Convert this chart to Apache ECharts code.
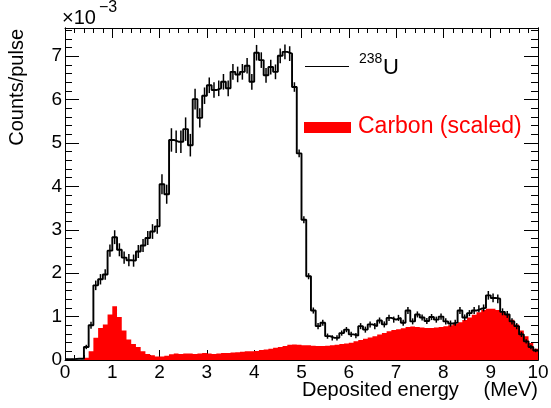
<!DOCTYPE html>
<html>
<head>
<meta charset="utf-8">
<script src="https://cdn.jsdelivr.net/npm/echarts@6/dist/echarts.min.js"></script>
<style>html,body{margin:0;padding:0;background:#fff}#c{width:551px;height:408px}</style>
</head>
<body>
<div id="c"></div>
<script>
// Histogram: 100 bins of 0.1 MeV from 0 to 10 MeV; values in units of 1e-3 counts/pulse
var binWidth = 0.1;
var xTickLabels = ['0','1','2','3','4','5','6','7','8','9','10'];
var yTickLabels = ['0','1','2','3','4','5','6','7'];

var u238 = [
 0.02,0.02,0.03,0.03,0.30,0.80,1.72,1.86,1.97,2.52,
 2.83,2.54,2.36,2.30,2.29,2.50,2.64,2.81,2.96,3.08,
 4.05,3.82,5.07,5.03,5.03,5.32,4.95,6.01,5.58,6.09,
 6.33,6.22,6.26,6.41,6.26,6.64,6.58,6.64,6.78,6.41,
 7.08,6.91,6.56,6.75,6.64,7.01,7.10,7.06,6.29,4.76,
 3.23,1.93,1.14,0.78,0.86,0.55,0.51,0.51,0.62,0.70,
 0.59,0.56,0.78,0.70,0.82,0.78,0.91,0.82,0.97,0.93,
 0.97,0.86,1.14,0.89,1.05,0.98,0.90,0.99,0.93,1.00,
 0.89,0.84,0.86,1.14,0.98,1.08,1.14,1.18,1.20,1.49,
 1.43,1.41,1.11,1.05,0.89,0.78,0.59,0.43,0.30,0.22
];
var u238Err = [
 0.01,0.01,0.01,0.01,0.05,0.08,0.11,0.12,0.12,0.14,
 0.16,0.15,0.14,0.14,0.14,0.15,0.15,0.16,0.17,0.17,
 0.23,0.22,0.27,0.26,0.26,0.27,0.26,0.24,0.22,0.19,
 0.18,0.18,0.18,0.18,0.18,0.18,0.18,0.18,0.18,0.18,
 0.18,0.18,0.17,0.17,0.17,0.17,0.17,0.17,0.11,0.09,
 0.08,0.07,0.07,0.07,0.07,0.06,0.06,0.06,0.06,0.06,
 0.06,0.06,0.07,0.07,0.07,0.07,0.07,0.07,0.07,0.07,
 0.07,0.07,0.08,0.07,0.07,0.07,0.07,0.07,0.07,0.07,
 0.07,0.07,0.07,0.08,0.07,0.07,0.08,0.08,0.08,0.10,
 0.10,0.10,0.08,0.08,0.07,0.07,0.06,0.05,0.05,0.04
];
var carbon = [
 0.00,0.00,0.00,0.00,0.05,0.20,0.51,0.74,0.82,1.05,
 1.24,0.99,0.68,0.47,0.37,0.30,0.20,0.14,0.11,0.08,
 0.08,0.10,0.13,0.15,0.14,0.15,0.15,0.14,0.15,0.16,
 0.15,0.14,0.15,0.16,0.16,0.17,0.18,0.19,0.20,0.20,
 0.21,0.23,0.24,0.26,0.28,0.30,0.32,0.35,0.36,0.35,
 0.34,0.34,0.33,0.32,0.32,0.33,0.34,0.35,0.37,0.38,
 0.40,0.43,0.46,0.49,0.52,0.55,0.59,0.62,0.66,0.69,
 0.71,0.73,0.76,0.77,0.76,0.75,0.74,0.74,0.75,0.76,
 0.78,0.80,0.83,0.87,0.92,0.98,1.04,1.10,1.15,1.18,
 1.18,1.15,1.11,1.04,0.93,0.82,0.68,0.55,0.39,0.26
];

function edge(i){ return Math.round(i*binWidth*1000)/1000; }
function stepData(arr){
  var d = arr.map(function(v,i){ return [edge(i), v]; });
  d.push([edge(arr.length), arr[arr.length-1]]);
  return d;
}
var errData = u238.map(function(v,i){ return [Math.round((i+0.5)*binWidth*1000)/1000, v, u238Err[i]]; });
var carbonBins = carbon.map(function(v,i){ return [edge(i), edge(i+1), v]; });

var FONT = 'Liberation Sans, Arial, Helvetica, sans-serif';
var YMAX = 7.65;

var chart = echarts.init(document.getElementById('c'), null, {renderer:'canvas'});
var gridBox = {left:65, right:13, top:28, height:332, containLabel:false, outerBoundsMode:'none'};
function xAxisCfg(gi, pos, labels){
  return {
    type:'value', gridIndex:gi, position:pos, min:0, max:10, interval:1,
    axisLine:{show:true, onZero:false, lineStyle:{color:'#000', width:1}},
    axisTick:{show:true, inside:true, length:10, lineStyle:{color:'#000', width:1}},
    minorTick:{show:true, splitNumber:5, length:5, lineStyle:{color:'#000', width:1}},
    splitLine:{show:false},
    axisLabel:{show:labels, margin:3, color:'#000', fontSize:19, fontFamily:FONT,
      formatter:function(v){ var k=Math.round(v); return (Math.abs(v-k)<1e-6 && k>=0 && k<xTickLabels.length) ? xTickLabels[k] : ''; }}
  };
}
function yAxisCfg(gi, pos, interval, len, labels){
  return {
    type:'value', gridIndex:gi, position:pos, min:0, max:YMAX, interval:interval,
    axisLine:{show:true, onZero:false, lineStyle:{color:'#000', width:1}},
    axisTick:{show:true, inside:true, length:len, lineStyle:{color:'#000', width:1}},
    splitLine:{show:false},
    axisLabel:{show:labels, margin:3, color:'#000', fontSize:19, fontFamily:FONT,
      formatter:function(v){ var k=Math.round(v); return (Math.abs(v-k)<1e-6 && k>=0 && k<yTickLabels.length) ? yTickLabels[k] : ''; }}
  };
}

var option = {
  animation:false,
  backgroundColor:'#fff',
  grid:[Object.assign({}, gridBox), Object.assign({}, gridBox)],
  xAxis:[xAxisCfg(0,'bottom',true), xAxisCfg(1,'top',false)],
  yAxis:[
    yAxisCfg(0,'left',1,14,true), yAxisCfg(0,'right',1,14,false),
    yAxisCfg(1,'left',0.2,7,false), yAxisCfg(1,'right',0.2,7,false)
  ],
  series:[
    {
      // whole carbon histogram drawn as one stepped polygon through the axis scales
      name:'Carbon (scaled)', type:'custom', xAxisIndex:0, yAxisIndex:0, z:2,
      data:carbonBins, encode:{x:[0,1], y:2},
      renderItem:function(params, api){
        if (params.dataIndex !== 0) return null;
        var pts = [api.coord([carbonBins[0][0], 0])];
        for (var i=0;i<carbonBins.length;i++){
          var b = carbonBins[i];
          pts.push(api.coord([b[0], b[2]]));
          pts.push(api.coord([b[1], b[2]]));
        }
        pts.push(api.coord([carbonBins[carbonBins.length-1][1], 0]));
        return {type:'polygon', shape:{points:pts}, style:{fill:'#ff0000', stroke:null}};
      }
    },
    {
      name:'238U', type:'line', xAxisIndex:0, yAxisIndex:0,
      step:'end', symbol:'none', data:stepData(u238),
      lineStyle:{color:'#000', width:1.9}, z:3
    },
    {
      name:'238U err', type:'custom', xAxisIndex:0, yAxisIndex:0, z:4,
      data:errData,
      renderItem:function(params, api){
        var x=api.value(0), v=api.value(1), e=api.value(2);
        var p1=api.coord([x, v-e]), p2=api.coord([x, v+e]);
        return {type:'line', shape:{x1:p1[0], y1:p1[1], x2:p2[0], y2:p2[1]},
                style:{stroke:'#000', lineWidth:1.5}};
      }
    }
  ],
  graphic:[
    {type:'text', x:62, y:18, style:{text:'\u00d710', fontSize:20, fontFamily:FONT, fill:'#000', verticalAlign:'middle'}},
    {type:'text', x:99, y:8, style:{text:'\u22123', fontSize:16, fontFamily:FONT, fill:'#000', verticalAlign:'middle'}},
    {type:'line', shape:{x1:305, y1:66.5, x2:349, y2:66.5}, style:{stroke:'#000', lineWidth:1}},
    {type:'text', x:359, y:59, style:{text:'238', fontSize:14, fontFamily:FONT, fill:'#000', verticalAlign:'middle'}},
    {type:'text', x:383, y:68, style:{text:'U', fontSize:22, fontFamily:FONT, fill:'#000', verticalAlign:'middle'}},
    {type:'rect', shape:{x:304, y:122, width:47, height:11}, style:{fill:'#ff0000'}},
    {type:'text', x:358, y:127, style:{text:'Carbon (scaled)', fontSize:23, fontFamily:FONT, fill:'#ff0000', verticalAlign:'middle'}},
    {type:'text', x:302, y:390, style:{text:'Deposited energy', fontSize:20, fontFamily:FONT, fill:'#000', verticalAlign:'middle'}},
    {type:'text', x:538, y:390, style:{text:'(MeV)', fontSize:20, fontFamily:FONT, fill:'#000', align:'right', verticalAlign:'middle'}},
    {type:'text', x:17, y:29, rotation:Math.PI/2, style:{text:'Counts/pulse', fontSize:20, fontFamily:FONT, fill:'#000', align:'right', verticalAlign:'middle'}}
  ]
};
chart.setOption(option);
</script>
</body>
</html>
